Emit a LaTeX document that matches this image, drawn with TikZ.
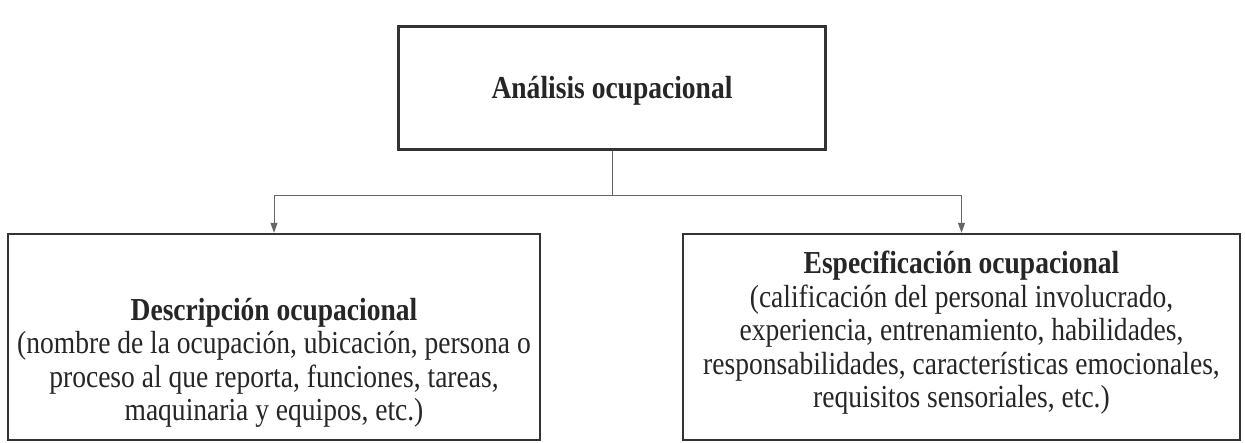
\documentclass[tikz,border=0pt]{standalone}
\usepackage{fontspec}
\setmainfont{Liberation Serif}[FakeStretch=0.86]
\usetikzlibrary{arrows.meta}
\begin{document}
\begin{tikzpicture}[x=1pt,y=-1pt,
  boxst/.style={draw=black!80,line width=2.4pt,fill=white,inner sep=0pt},
  conn/.style={draw=black!60,line width=1pt},
  arr/.style={conn,-{Triangle[length=10pt,width=7pt]}},
  txt/.style={align=center,font=\fontsize{32}{33.5}\selectfont,text=black!85,inner sep=0pt}]
\useasboundingbox (0,0) rectangle (1245,442);
\node[boxst,minimum width=427pt,minimum height=123pt] (top) at (612,88) {};
\node[txt] (toptxt) at (612,91) {\textbf{Análisis ocupacional}};
\node[boxst,minimum width=532pt,minimum height=206pt] (left) at (274,337) {};
\node[txt] (lefttxt) at (274,363) {\textbf{Descripción ocupacional}\\(nombre de la ocupación, ubicación, persona o\\proceso al que reporta, funciones, tareas,\\maquinaria y equipos, etc.)};
\node[boxst,minimum width=557pt,minimum height=206pt] (right) at (961.5,337) {};
\node[txt] (righttxt) at (961.5,333) {\textbf{Especificación ocupacional}\\(calificación del personal involucrado,\\experiencia, entrenamiento, habilidades,\\responsabilidades, características emocionales,\\requisitos sensoriales, etc.)};
\draw[conn] (top.south) -- ++(0,45) coordinate (j);
\draw[arr] (j) -| (left.north);
\draw[arr] (j) -| (right.north);
\end{tikzpicture}
\end{document}
